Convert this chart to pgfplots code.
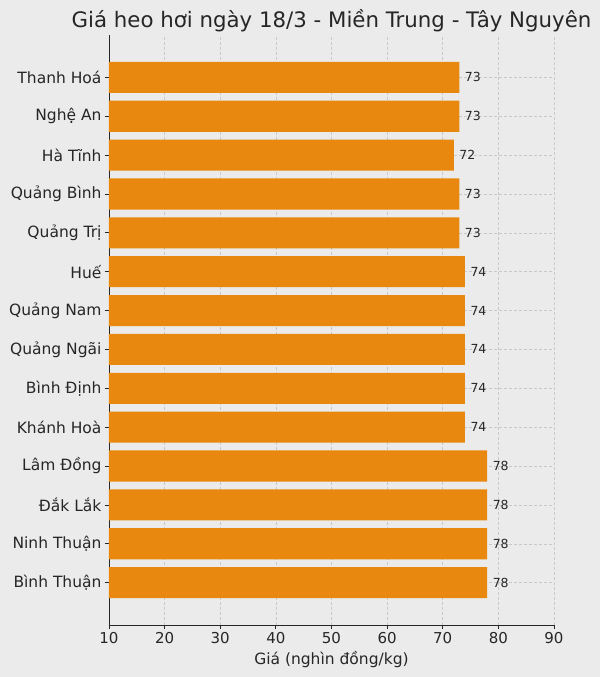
\documentclass[border=0pt]{standalone}
\usepackage{pgfplots}
\pgfplotsset{compat=1.18}
\usepackage{fontspec}
\setmainfont{DejaVu Sans}

\definecolor{bg}{RGB}{235,235,235}
\definecolor{bar}{RGB}{233,136,15}
\definecolor{txt}{RGB}{38,38,38}
\definecolor{gridc}{RGB}{200,200,200}

\begin{document}
\begin{tikzpicture}
    % page background, 600 x 677
    \fill[bg] (-109pt,-52pt) rectangle (491pt,625pt);
    \path[use as bounding box] (-109pt,-52pt) rectangle (491pt,625pt);
    \begin{axis}[
        at={(0pt,0pt)}, anchor=south west,
        scale only axis,
        width=445pt, height=590pt,
        xmin=10, xmax=90,
        ymin=-1.09, ymax=14.09,
        xbar, bar width=0.8,
        axis x line*=bottom,
        axis y line*=left,
        axis line style={-, txt, line width=0.9pt},
        xtick={10,20,...,90},
        ytick={0,...,13},
        yticklabels={Bình Thuận, Ninh Thuận, Đắk Lắk, Lâm Đồng, Khánh Hoà,
            Bình Định, Quảng Ngãi, Quảng Nam, Huế, Quảng Trị, Quảng Bình,
            Hà Tĩnh, Nghệ An, Thanh Hoá},
        tick align=outside,
        major tick length=4pt,
        tick style={txt, line width=0.8pt},
        xmajorgrids, ymajorgrids,
        major grid style={gridc, dash pattern=on 3pt off 2pt, line width=0.5pt},
        xticklabel style={font=\fontsize{15}{16}\selectfont, text=txt},
        yticklabel style={font=\fontsize{15.5}{16}\selectfont, text=txt},
        /pgf/number format/assume math mode=true,
        xlabel={Giá (nghìn đồng/kg)},
        xlabel style={font=\fontsize{15.5}{16}\selectfont, text=txt, yshift=-1pt},
        title={Giá heo hơi ngày 18/3 - Miền Trung - Tây Nguyên},
        title style={font=\fontsize{21.3}{23}\selectfont, text=txt, yshift=-6pt},
        nodes near coords,
        nodes near coords style={font=\fontsize{12.5}{13}\selectfont, text=txt, xshift=2pt},
    ]
    \addplot[fill=bar, draw=none] coordinates {
        (78,0) (78,1) (78,2) (78,3)
        (74,4) (74,5) (74,6) (74,7) (74,8)
        (73,9) (73,10) (72,11) (73,12) (73,13)
    };
    \end{axis}
\end{tikzpicture}
\end{document}
